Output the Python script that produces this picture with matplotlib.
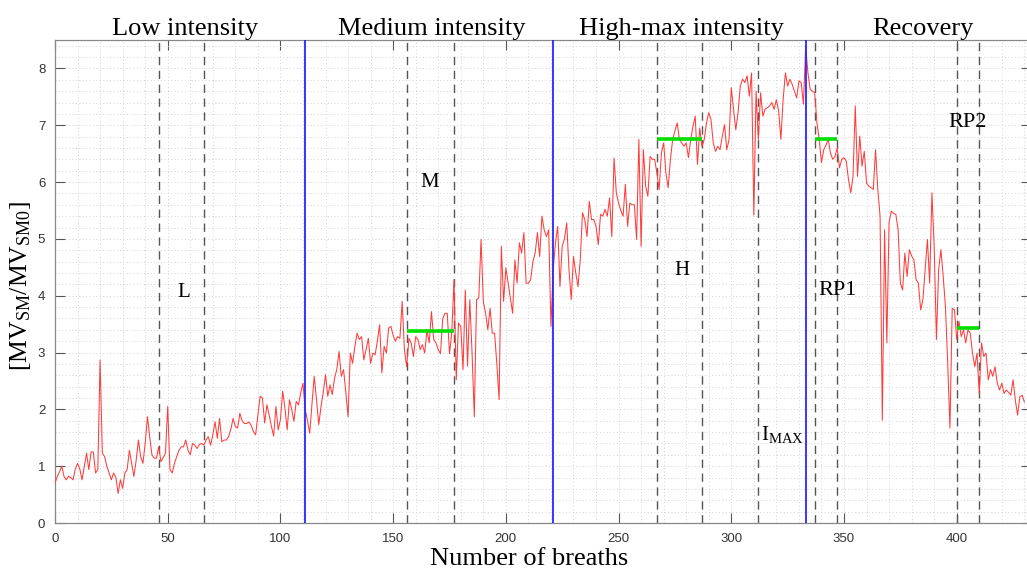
import numpy as np
import matplotlib
matplotlib.use("Agg")
import matplotlib.pyplot as plt
from matplotlib.ticker import MultipleLocator

plt.rcParams['mathtext.fontset'] = 'custom'
plt.rcParams['mathtext.rm'] = 'Liberation Serif'
plt.rcParams['mathtext.it'] = 'Liberation Serif:italic'

# Minute ventilation ratio, one value per breath (breath 0 .. 430)
mv_ratio = [
    0.70, 0.82, 0.90, 1.00, 0.82, 0.76, 0.82, 0.80, 0.76, 0.95,
    1.05, 0.95, 0.76, 1.00, 1.23, 0.94, 1.25, 1.25, 0.88, 0.94,
    2.87, 1.23, 1.17, 1.00, 0.88, 0.76, 0.88, 0.80, 0.52, 0.76,
    0.61, 0.88, 0.94, 1.28, 1.05, 0.82, 1.10, 1.46, 1.17, 1.05,
    1.40, 1.87, 1.52, 1.20, 1.14, 1.14, 1.34, 1.08, 1.15, 1.23,
    2.05, 0.94, 0.88, 1.05, 1.17, 1.28, 1.34, 1.34, 1.46, 1.28,
    1.20, 1.40, 1.37, 1.31, 1.38, 1.40, 1.37, 1.46, 1.52, 1.37,
    1.55, 1.78, 1.49, 1.84, 1.43, 1.46, 1.46, 1.52, 1.65, 1.84,
    1.70, 1.67, 1.93, 1.80, 1.75, 1.75, 1.78, 1.72, 1.61, 1.55,
    1.90, 2.23, 2.20, 1.76, 2.08, 1.90, 1.70, 1.53, 2.05, 1.64,
    1.82, 2.32, 2.02, 1.64, 2.17, 2.00, 1.79, 2.14, 2.08, 2.29,
    2.46, 2.00, 1.80, 1.58, 2.10, 2.58, 2.17, 1.73, 2.05, 2.30,
    2.61, 2.23, 2.43, 2.26, 2.55, 2.70, 3.02, 2.58, 2.70, 2.30,
    1.87, 2.99, 2.81, 3.10, 3.34, 3.23, 3.28, 2.87, 3.05, 3.25,
    2.81, 2.99, 2.96, 3.20, 3.49, 2.64, 3.11, 2.99, 3.43, 3.46,
    3.30, 3.20, 3.28, 3.25, 3.90, 3.05, 2.75, 3.25, 3.17, 2.93,
    3.28, 3.23, 3.05, 3.14, 2.99, 3.40, 3.17, 3.72, 3.23, 3.17,
    3.05, 2.98, 3.60, 3.69, 3.69, 2.98, 3.34, 4.28, 2.52, 3.52,
    3.46, 2.70, 4.10, 2.76, 3.93, 3.00, 1.87, 3.93, 3.96, 4.99,
    3.90, 3.69, 3.40, 3.78, 3.34, 3.34, 2.80, 2.17, 4.87, 3.90,
    4.49, 4.22, 3.95, 3.69, 4.63, 4.22, 4.93, 4.75, 5.11, 4.22,
    4.22, 4.28, 4.60, 4.75, 5.11, 4.69, 5.40, 5.16, 5.04, 5.16,
    3.46, 4.46, 4.93, 5.22, 4.16, 4.87, 5.00, 5.28, 4.46, 3.93,
    4.69, 4.40, 4.16, 4.63, 5.46, 5.34, 5.04, 5.66, 5.34, 5.34,
    5.22, 4.90, 5.43, 5.40, 5.52, 5.40, 5.72, 5.04, 6.42, 5.81,
    5.63, 5.50, 5.40, 5.96, 5.22, 5.63, 5.60, 5.60, 4.99, 6.75,
    4.87, 6.57, 5.93, 5.75, 6.45, 6.40, 6.40, 6.16, 5.87, 6.51,
    6.69, 6.16, 5.90, 6.40, 6.75, 6.90, 7.04, 6.75, 6.69, 6.63,
    6.69, 6.43, 6.75, 6.98, 7.16, 6.31, 6.95, 6.63, 6.75, 7.04,
    7.22, 7.10, 6.69, 6.54, 6.63, 6.57, 6.80, 7.01, 6.57, 6.75,
    7.66, 7.28, 6.92, 7.22, 7.69, 7.81, 7.75, 7.87, 7.51, 7.92,
    5.42, 7.60, 6.75, 7.57, 7.16, 7.28, 7.31, 7.34, 7.40, 7.28,
    7.45, 7.25, 6.75, 7.45, 7.92, 7.69, 7.81, 7.72, 7.60, 7.48,
    7.78, 7.75, 7.37, 8.39, 7.92, 7.63, 7.60, 7.57, 7.04, 6.75,
    6.34, 6.57, 6.65, 6.75, 6.51, 6.40, 6.45, 6.60, 6.25, 6.40,
    6.43, 6.37, 6.04, 5.81, 6.10, 7.34, 6.10, 6.81, 6.28, 6.54,
    5.98, 5.93, 5.90, 5.87, 6.57, 5.87, 5.40, 1.81, 5.16, 3.17,
    5.30, 5.49, 5.45, 5.43, 5.16, 4.22, 4.10, 4.75, 4.34, 4.81,
    4.70, 4.63, 4.28, 4.22, 3.75, 3.93, 4.46, 4.99, 4.22, 5.81,
    4.87, 3.23, 4.46, 4.81, 4.34, 3.81, 2.81, 1.67, 3.78, 3.75,
    3.23, 3.55, 3.28, 3.40, 3.17, 3.40, 3.34, 2.99, 2.75, 2.99,
    2.28, 3.17, 2.93, 2.99, 2.52, 2.70, 2.58, 2.75, 2.46, 2.34,
    2.46, 2.28, 2.34, 2.30, 2.25, 2.52, 2.16, 1.90, 2.22, 2.25,
    2.13,
]
breaths = np.arange(len(mv_ratio))

# Phase boundaries (solid blue) and analysis-window limits (dashed)
phase_bounds = [111, 221, 333]
window_bounds = [46, 66, 156, 177, 267, 287, 312, 337, 347, 400, 410]

# Mean level in each analysis window (green bars)
window_means = {"M": (156, 177, 3.38), "H": (267, 287, 6.75),
                "RP1": (337, 347, 6.75), "RP2": (400, 410, 3.44)}

phase_titles = ["Low intensity", "Medium intensity", "High-max intensity", "Recovery"]
phase_title_x = [57.5, 167, 278, 385]

window_labels = ["L", "M", "H", "RP1", "RP2", r"I$_{\rm MAX}$"]
window_label_x = [57, 166, 278, 347, 405, 322.5]
window_label_y = [4.05, 6.0, 4.45, 4.1, 7.05, 1.55]
window_label_size = [15, 15, 15, 16, 16, 15]

x_ticks = [0, 50, 100, 150, 200, 250, 300, 350, 400]
y_ticks = [0, 1, 2, 3, 4, 5, 6, 7, 8]

serif = ["Liberation Serif", "DejaVu Serif"]
tickfont = ["Liberation Sans Narrow", "Liberation Sans", "DejaVu Sans"]

fig = plt.figure(figsize=(10.27, 5.72), dpi=100)
ax = fig.add_axes([55 / 1027, 1 - 523 / 572, 1 - 55 / 1027 + 0.004, (523 - 40) / 572])

ax.set_xlim(0, 433)
ax.set_ylim(0, 8.5)

# dotted minor grid
ax.xaxis.set_minor_locator(MultipleLocator(10))
ax.yaxis.set_minor_locator(MultipleLocator(0.2))
ax.grid(which="both", color="#d2d2d2", linestyle=(0, (1, 2.5)), linewidth=0.7)
ax.set_axisbelow(True)

ax.plot(breaths, mv_ratio, color="#ff3c3c", linewidth=0.75, zorder=3)

for xb in phase_bounds:
    ax.axvline(xb, color="#2828ff", linewidth=1.3, zorder=4)
for xb in window_bounds:
    ax.axvline(xb, color="#555555", linewidth=1.0, linestyle=(0, (6, 4)), zorder=2)

for key, (x0, x1, yv) in window_means.items():
    ax.plot([x0, x1], [yv, yv], color="#00e000", linewidth=2.6, solid_capstyle="butt", zorder=5)

for t, xp in zip(phase_titles, phase_title_x):
    ax.text(xp, 8.70, t, ha="center", va="center", fontsize=19, family=serif, clip_on=False)

for t, xp, yp, fs in zip(window_labels, window_label_x, window_label_y, window_label_size):
    ax.text(xp, yp, t, ha="center", va="center", fontsize=fs, family=serif, zorder=6)

ax.set_xticks(x_ticks)
ax.set_yticks(y_ticks)
ax.tick_params(which="major", direction="in", length=7, width=0.8, color="#555555",
               top=True, right=True, labelsize=9.5, labelcolor="#333333", pad=7)
ax.tick_params(which="minor", length=0)
for lab in ax.get_xticklabels() + ax.get_yticklabels():
    lab.set_family(tickfont)
for sp in ax.spines.values():
    sp.set_color("#888888")
    sp.set_linewidth(0.9)

ax.set_xlabel("Number of breaths", fontsize=19, family=serif)
ax.xaxis.set_label_coords(0.486, -0.052)
ax.set_ylabel(r"[MV$_{\rm SM}$/MV$_{\rm SM0}$]", fontsize=18.5, family=serif)
ax.yaxis.set_label_coords(-0.023, 0.49)

fig.savefig("out.png", dpi=100)
